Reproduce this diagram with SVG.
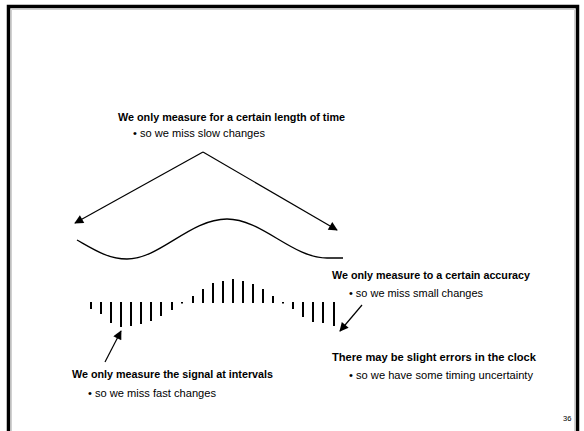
<svg xmlns="http://www.w3.org/2000/svg" width="584" height="431" viewBox="0 0 584 431">
<style>
.h{font-family:"Liberation Sans",Arial,sans-serif;font-weight:bold;font-size:10.5px;fill:#000}
.b{font-family:"Liberation Sans",Arial,sans-serif;font-size:10px;fill:#000}
.bar{stroke:#000;stroke-width:2}
.ar{stroke:#000;stroke-width:1.2;fill:none;marker-end:url(#ah)}
</style>
<defs>
<marker id="ah" viewBox="0 0 10 10" refX="9" refY="5" markerWidth="11" markerHeight="9" markerUnits="userSpaceOnUse" orient="auto">
<path d="M0,0 L10,5 L0,10 Z" fill="#000"/>
</marker>
</defs>
<rect x="0" y="0" width="584" height="431" fill="#fff"/>
<g id="frame">
<path d="M8.5,440 V6.5 H577.5 V440" fill="none" stroke="#000" stroke-width="3.5"/>
<path d="M11.5,440 V9.5 H574.5 V440" fill="none" stroke="#d0d0d0" stroke-width="1"/>
</g>
<g id="wave">
<path d="M77,240 C93,249 108,259 127,259 C160,259 190,219 227,219 C262,219 292,258 327,258 C333,258 338,258 343,258" fill="none" stroke="#000" stroke-width="1.3"/>
</g>
<g id="samples">
<line class="bar" x1="91" y1="302" x2="91" y2="309"/>
<line class="bar" x1="101" y1="302" x2="101" y2="314"/>
<line class="bar" x1="111" y1="302" x2="111" y2="323"/>
<line class="bar" x1="121" y1="302" x2="121" y2="327"/>
<line class="bar" x1="131" y1="302" x2="131" y2="326"/>
<line class="bar" x1="141" y1="302" x2="141" y2="324"/>
<line class="bar" x1="151" y1="302" x2="151" y2="321"/>
<line class="bar" x1="161" y1="302" x2="161" y2="316"/>
<line class="bar" x1="172" y1="302" x2="172" y2="310"/>
<line class="bar" x1="182" y1="302" x2="182" y2="303.5"/>
<line class="bar" x1="193" y1="296" x2="193" y2="303"/>
<line class="bar" x1="203" y1="289" x2="203" y2="303"/>
<line class="bar" x1="213" y1="283" x2="213" y2="303"/>
<line class="bar" x1="223" y1="281" x2="223" y2="303"/>
<line class="bar" x1="233" y1="279" x2="233" y2="303"/>
<line class="bar" x1="243" y1="281" x2="243" y2="303"/>
<line class="bar" x1="253" y1="284" x2="253" y2="303"/>
<line class="bar" x1="263" y1="289" x2="263" y2="303"/>
<line class="bar" x1="273" y1="296" x2="273" y2="303"/>
<line class="bar" x1="283" y1="302" x2="283" y2="303.5"/>
<line class="bar" x1="293" y1="302" x2="293" y2="309"/>
<line class="bar" x1="303" y1="302" x2="303" y2="317"/>
<line class="bar" x1="313" y1="302" x2="313" y2="322"/>
<line class="bar" x1="323" y1="302" x2="323" y2="323"/>
<line class="bar" x1="334" y1="302" x2="334" y2="326"/>
</g>
<g id="connectors">
<line class="ar" x1="203" y1="152" x2="75" y2="223"/>
<line class="ar" x1="203" y1="152" x2="337" y2="230"/>
<line class="ar" x1="105" y1="362" x2="121" y2="331"/>
<line class="ar" x1="362" y1="305" x2="340" y2="331"/>
</g>
<g id="label-time">
<text class="h" x="118" y="121" textLength="227" lengthAdjust="spacingAndGlyphs">We only measure for a certain length of time</text>
<text class="b" x="133" y="137" textLength="132" lengthAdjust="spacingAndGlyphs">• so we miss slow changes</text>
</g>
<g id="label-accuracy">
<text class="h" x="332" y="279" textLength="198" lengthAdjust="spacingAndGlyphs">We only measure to a certain accuracy</text>
<text class="b" x="349" y="297" textLength="134" lengthAdjust="spacingAndGlyphs">• so we miss small changes</text>
</g>
<g id="label-clock">
<text class="h" x="332" y="361" textLength="204" lengthAdjust="spacingAndGlyphs">There may be slight errors in the clock</text>
<text class="b" x="349" y="379" textLength="184" lengthAdjust="spacingAndGlyphs">• so we have some timing uncertainty</text>
</g>
<g id="label-intervals">
<text class="h" x="72" y="378" textLength="201" lengthAdjust="spacingAndGlyphs">We only measure the signal at intervals</text>
<text class="b" x="88" y="397" textLength="128" lengthAdjust="spacingAndGlyphs">• so we miss fast changes</text>
</g>
<text class="b" x="563" y="421" font-size="7.5" style="font-size:7.5px">36</text>
</svg>
